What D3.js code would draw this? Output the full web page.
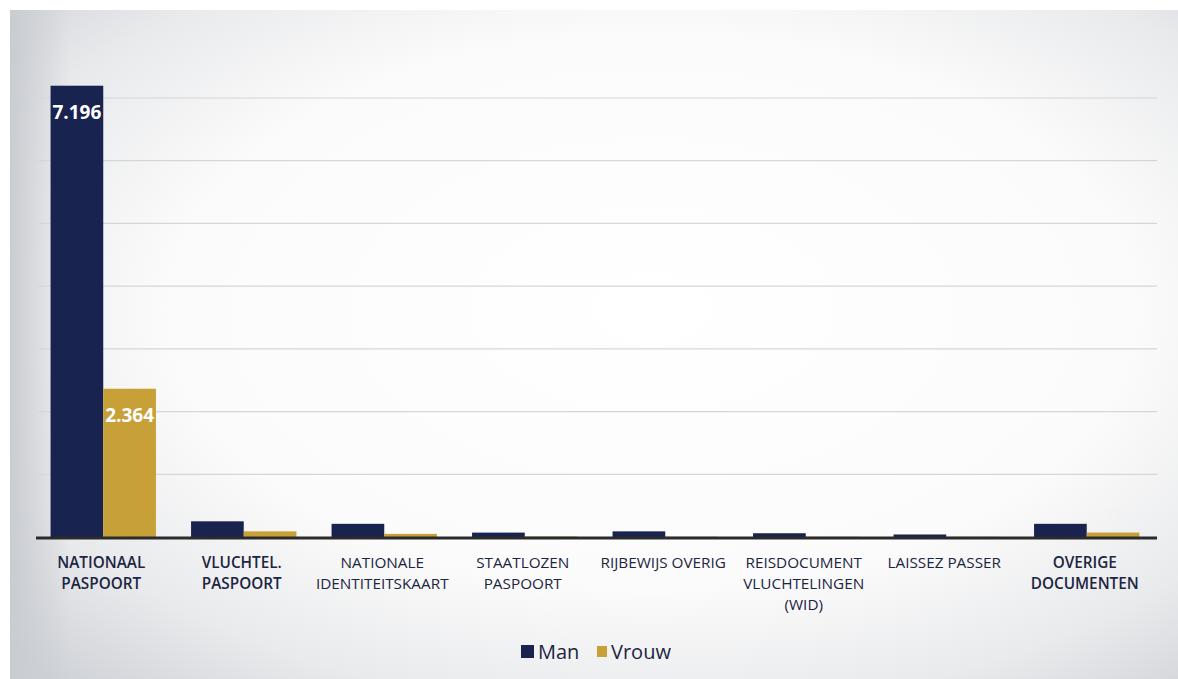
<!DOCTYPE html>
<html><head><meta charset="utf-8">
<script src="https://cdn.jsdelivr.net/npm/d3@7"></script>
<style>html,body{margin:0;padding:0;background:#fff;}svg{display:block;}</style>
</head><body>
<svg id="chart" width="1178" height="679"></svg>
<script>
const categories = [
  ["NATIONAAL","PASPOORT"],
  ["VLUCHTEL.","PASPOORT"],
  ["NATIONALE","IDENTITEITSKAART"],
  ["STAATLOZEN","PASPOORT"],
  ["RIJBEWIJS OVERIG"],
  ["REISDOCUMENT","VLUCHTELINGEN","(WID)"],
  ["LAISSEZ PASSER"],
  ["OVERIGE","DOCUMENTEN"]
];
const boldCats = [true, true, false, false, false, false, false, true];
const seriesNames = ["Man", "Vrouw"];
const manValues =   [7196, 250, 210, 70, 90, 60, 40, 210];
const vrouwValues = [2364, 90, 50, 8, 4, 4, 4, 71];
const shownLabels = [[0,0],[0,1],[7,1]]; // [category, series]
const yTicks = [0,1000,2000,3000,4000,5000,6000,7000];

const W = 1178, H = 679;
const svg = d3.select("#chart");
const defs = svg.append("defs");
const rg = defs.append("radialGradient").attr("id","bg")
  .attr("cx","0.55").attr("cy","0.45").attr("r","0.75");
rg.append("stop").attr("offset","0").attr("stop-color","#ffffff");
rg.append("stop").attr("offset","0.55").attr("stop-color","#fbfbfb");
rg.append("stop").attr("offset","0.8").attr("stop-color","#e9eaec");
rg.append("stop").attr("offset","1").attr("stop-color","#cfd2d7");
const lg = defs.append("linearGradient").attr("id","leftshade").attr("x1","0").attr("x2","1");
lg.append("stop").attr("offset","0").attr("stop-color","#c9ccd1").attr("stop-opacity",1);
lg.append("stop").attr("offset","1").attr("stop-color","#c9ccd1").attr("stop-opacity",0);

svg.append("rect").attr("width",W).attr("height",H).attr("fill","#fff");
svg.append("rect").attr("x",10).attr("y",10).attr("width",W-10).attr("height",H-10).attr("fill","url(#bg)");
svg.append("rect").attr("x",10).attr("y",10).attr("width",60).attr("height",H-10).attr("fill","url(#leftshade)");

const x0 = d3.scaleBand().domain(d3.range(categories.length)).range([33,1157]).paddingInner(0.25).paddingOuter(0.125);
const x1 = d3.scaleBand().domain(seriesNames).range([0, x0.bandwidth()]);
const y = d3.scaleLinear().domain([0,7000]).range([537, 98]);

// gridlines
svg.append("g").selectAll("line").data(yTicks.slice(1)).join("line")
  .attr("x1",38).attr("x2",1157).attr("y1",d=>y(d)).attr("y2",d=>y(d))
  .attr("stroke","#d4d6d9").attr("stroke-width",1.2);

const colors = {Man:"#18234f", Vrouw:"#c8a038"};
const data = categories.map((c,i)=>({i, vals:[{s:"Man",v:manValues[i]},{s:"Vrouw",v:vrouwValues[i]}]}));

const groups = svg.append("g").selectAll("g").data(data).join("g")
  .attr("transform",d=>`translate(${x0(d.i)},0)`);
groups.selectAll("rect").data(d=>d.vals).join("rect")
  .attr("x",d=>x1(d.s)).attr("width",x1.bandwidth())
  .attr("y",d=>y(d.v)).attr("height",d=>y(0)-y(d.v))
  .attr("fill",d=>colors[d.s]);

// baseline
svg.append("line").attr("x1",36).attr("x2",1157).attr("y1",y(0)+1).attr("y2",y(0)+1)
  .attr("stroke","#2b2b2b").attr("stroke-width",3);

// value labels
shownLabels.forEach(([ci,si])=>{
  const s = seriesNames[si];
  const v = si===0 ? manValues[ci] : vrouwValues[ci];
  const cx = x0(ci)+x1(s)+x1.bandwidth()/2;
  const big = v > 1000;
  svg.append("text").attr("x",cx)
    .attr("y", big ? y(v)+33 : y(v)-14)
    .attr("text-anchor","middle")
    .attr("font-family","'Open Sans', sans-serif").attr("font-weight",700)
    .attr("font-size", big ? 19 : 15)
    .attr("fill", big ? "#ffffff" : "#f2f2f2")
    .text(d3.format(",")(v).replace(/,/g,"."));
});

// category labels
const xl = svg.append("g");
categories.forEach((lines,i)=>{
  const t = xl.append("text").attr("text-anchor","middle")
    .attr("font-family","'Open Sans', sans-serif").attr("font-size",15.3)
    .attr("font-weight", boldCats[i] ? 600 : 400)
    .attr("fill","#1c2541");
  lines.forEach((l,k)=>{
    t.append("tspan").attr("x",x0(i)+x0.bandwidth()/2 - 2).attr("y",568+k*21).text(l);
  });
});

// legend
const leg = svg.append("g");
leg.append("rect").attr("x",521).attr("y",645).attr("width",13).attr("height",13).attr("fill",colors.Man);
leg.append("text").attr("x",538).attr("y",659).attr("font-family","'Open Sans', sans-serif").attr("font-size",20).attr("fill","#1c2541").text(seriesNames[0]);
leg.append("rect").attr("x",597).attr("y",646).attr("width",10).attr("height",11).attr("fill",colors.Vrouw);
leg.append("text").attr("x",611).attr("y",659).attr("font-family","'Open Sans', sans-serif").attr("font-size",20).attr("fill","#1c2541").text(seriesNames[1]);
</script>
</body></html>
